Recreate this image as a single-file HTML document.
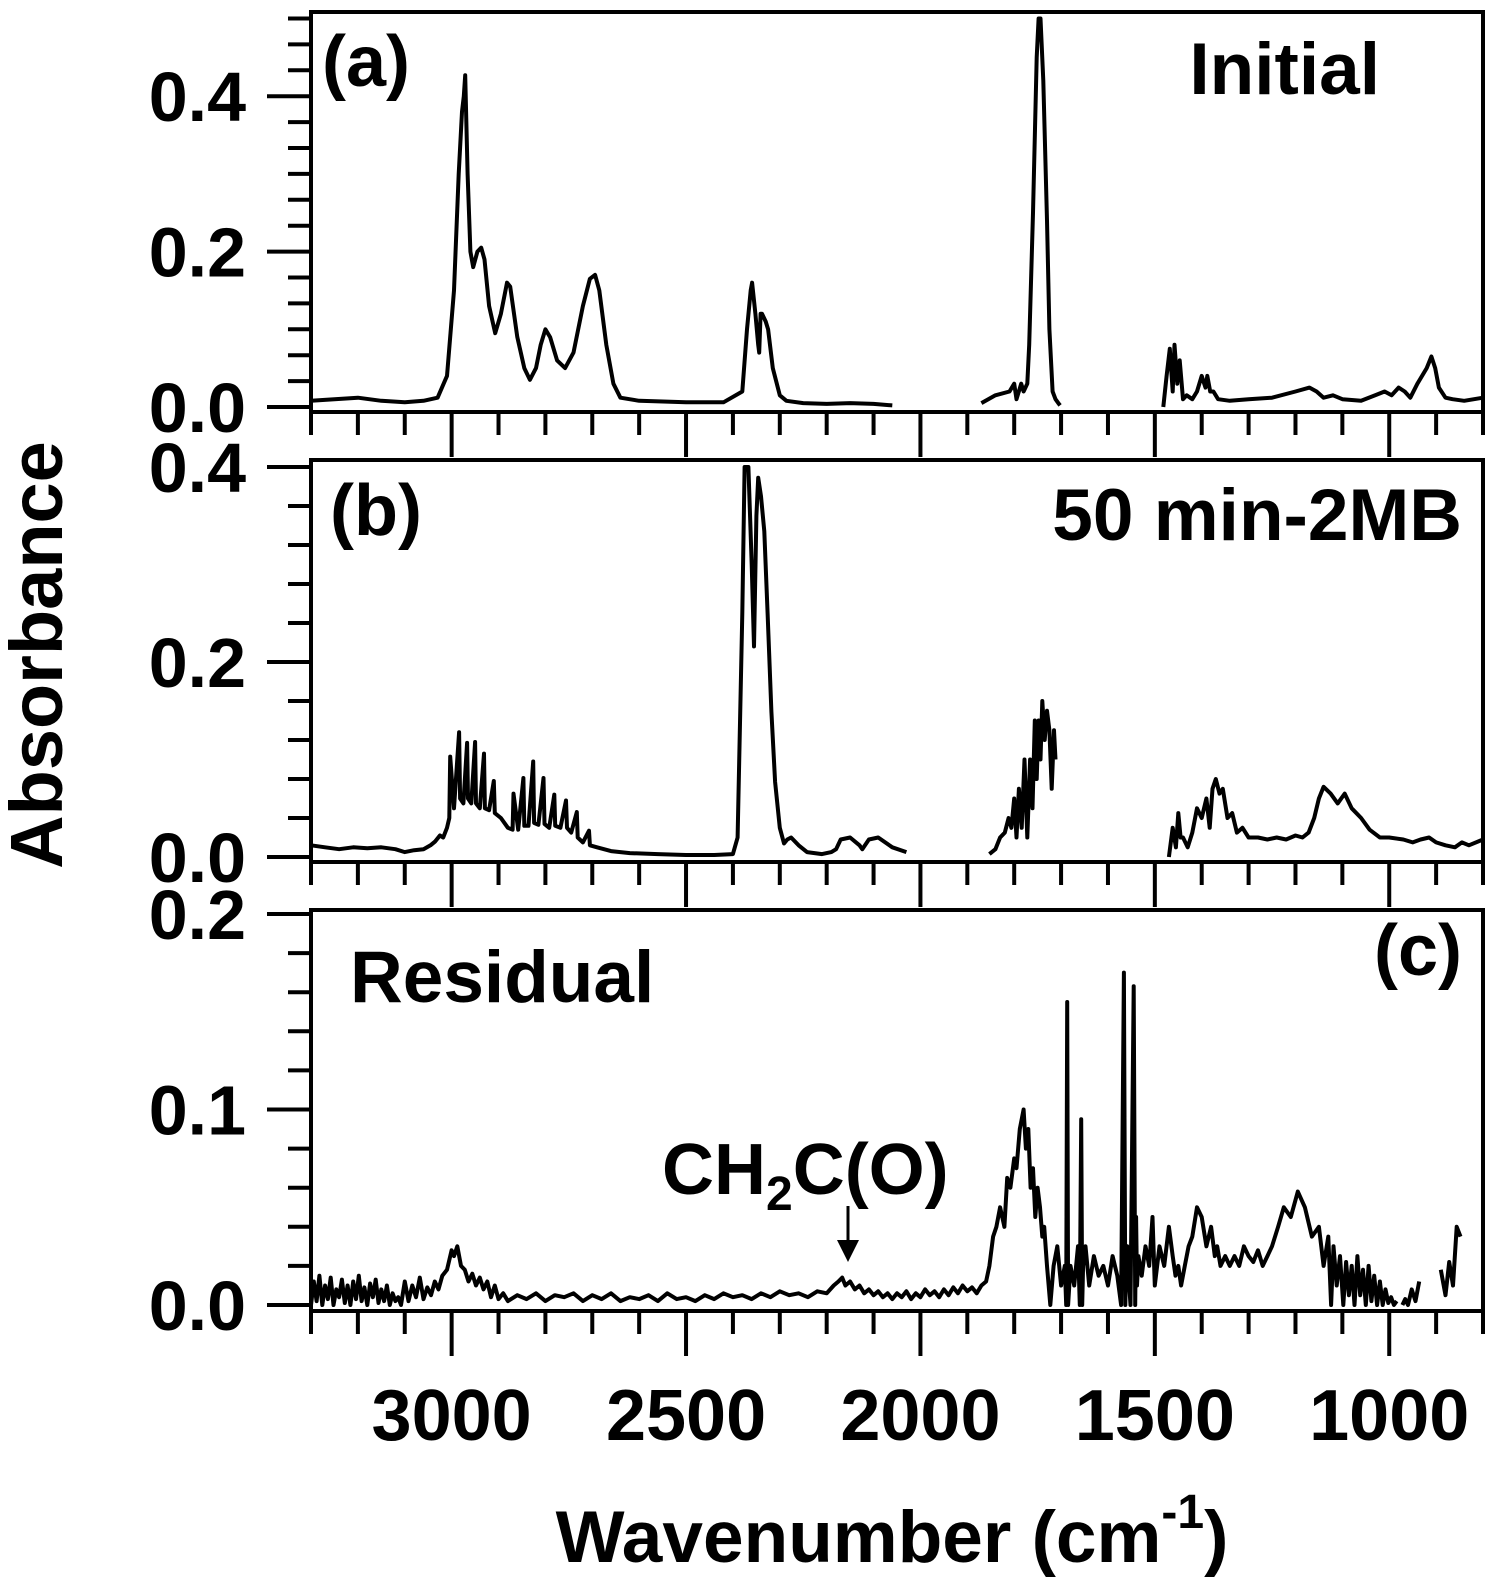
<!DOCTYPE html>
<html><head><meta charset="utf-8"><style>
html,body{margin:0;padding:0;background:#fff;}
svg{display:block;}
text{font-family:"Liberation Sans",Arial,sans-serif;font-weight:bold;fill:#000;}
</style></head><body>
<svg id="chart" width="1500" height="1588" viewBox="0 0 1500 1588">
<g id="frames"></g>
<g id="ticks"></g>
<g id="series"></g>
<g id="labels"></g>
<text x="322" y="86" font-size="72">(a)</text>
<text x="1380" y="94" font-size="73" text-anchor="end">Initial</text>
<text x="330" y="535" font-size="72">(b)</text>
<text x="1462" y="540" font-size="73" text-anchor="end">50 min-2MB</text>
<text x="350" y="1002" font-size="73">Residual</text>
<text x="1462" y="975" font-size="72" text-anchor="end">(c)</text>
<text x="662" y="1194" font-size="72">CH<tspan font-size="48" dy="16">2</tspan><tspan dy="-16">C(O)</tspan></text>
<g>
<line x1="848" y1="1206" x2="848" y2="1246" stroke="#000" stroke-width="3"/>
<polygon points="837,1240 859,1240 848,1262" fill="#000"/>
</g>
<text x="892" y="1562" font-size="73" text-anchor="middle">Wavenumber (cm<tspan font-size="48" dy="-34">-1</tspan><tspan dy="34">)</tspan></text>
<text transform="translate(62,655) rotate(-90)" font-size="74" text-anchor="middle">Absorbance</text>
</svg>
<script>
// x-axis ticks
const xMajorTicks=[3000,2500,2000,1500,1000];
const xTickLabels=["3000","2500","2000","1500","1000"];
// y ticks per panel
const aYTicks=[0.0,0.2,0.4]; const aYLabels=["0.0","0.2","0.4"];
const bYTicks=[0.0,0.2,0.4]; const bYLabels=["0.0","0.2","0.4"];
const cYTicks=[0.0,0.1,0.2]; const cYLabels=["0.0","0.1","0.2"];

// Panel (a) Initial
const aWave=[3300,3250,3200,3150,3100,3060,3030,3010,2995,2985,2978,2974,2971,2966,2960,2954,2945,2937,2930,2920,2907,2895,2882,2875,2860,2845,2833,2820,2810,2800,2790,2775,2758,2740,2720,2705,2694,2685,2670,2655,2640,2600,2500,2420,2380,2370,2362,2359,2352,2346,2344,2341,2338,2330,2325,2315,2300,2286,2250,2200,2150,2100,2060,null,1870,1840,1810,1800,1795,1785,1780,1772,1768,1760,1752,1748,1744,1738,1730,1725,1718,1712,1706,1702,null,1482,1475,1468,1462,1458,1452,1447,1440,1432,1420,1410,1400,1392,1388,1382,1375,1365,1340,1300,1250,1200,1170,1155,1140,1120,1100,1060,1030,1010,995,980,967,955,940,920,910,902,894,880,865,840,800];
const aVal=[0.008,0.010,0.012,0.008,0.006,0.008,0.012,0.04,0.15,0.30,0.38,0.40,0.427,0.30,0.20,0.18,0.20,0.205,0.19,0.13,0.095,0.12,0.16,0.155,0.09,0.05,0.035,0.05,0.08,0.10,0.09,0.06,0.05,0.07,0.13,0.165,0.17,0.15,0.08,0.03,0.012,0.008,0.006,0.006,0.02,0.10,0.15,0.16,0.12,0.08,0.07,0.12,0.12,0.11,0.10,0.05,0.015,0.008,0.005,0.004,0.005,0.004,0.002,null,0.005,0.015,0.02,0.03,0.01,0.03,0.02,0.03,0.08,0.25,0.45,0.50,0.50,0.42,0.24,0.10,0.02,0.01,0.005,0.002,null,0.0,0.04,0.075,0.02,0.08,0.03,0.06,0.01,0.015,0.01,0.02,0.04,0.025,0.04,0.02,0.02,0.01,0.008,0.01,0.012,0.02,0.025,0.02,0.012,0.015,0.01,0.008,0.015,0.02,0.015,0.025,0.02,0.012,0.03,0.05,0.065,0.05,0.025,0.012,0.01,0.008,0.012];

// Panel (b) 50 min-2MB
const bWave=[3300,3270,3240,3210,3180,3150,3120,3100,3080,3060,3045,3035,3025,3018,3010,3005,3003,2995,2984,2982,2975,2967,2965,2958,2950,2948,2940,2931,2929,2920,2910,2908,2895,2880,2870,2868,2858,2847,2845,2836,2826,2824,2815,2804,2802,2792,2781,2779,2768,2756,2754,2745,2733,2731,2720,2707,2705,2690,2660,2620,2560,2500,2440,2400,2390,2380,2375,2367,2360,2355,2350,2346,2340,2333,2326,2318,2310,2300,2291,2284,2276,2260,2242,2210,2190,2180,2170,2150,2130,2124,2110,2090,2060,2030,null,1880,1860,1853,1840,1830,1820,1812,1806,1800,1795,1790,1784,1778,1772,1766,1761,1756,1752,1748,1744,1740,1735,1730,1725,1720,1715,1712,null,1486,1478,1470,1462,1455,1450,1445,1440,1430,1420,1410,1400,1390,1383,1377,1370,1362,1355,1345,1335,1325,1313,1300,1280,1260,1240,1220,1200,1185,1172,1160,1150,1140,1125,1110,1095,1080,1060,1042,1020,1000,970,950,933,915,900,880,860,845,830,800];
const bVal=[0.012,0.010,0.008,0.010,0.009,0.010,0.008,0.005,0.007,0.008,0.012,0.016,0.022,0.02,0.03,0.04,0.103,0.05,0.128,0.06,0.055,0.117,0.06,0.055,0.118,0.055,0.05,0.106,0.05,0.048,0.078,0.045,0.04,0.03,0.028,0.065,0.028,0.081,0.032,0.032,0.098,0.035,0.033,0.081,0.034,0.03,0.064,0.032,0.03,0.058,0.03,0.025,0.046,0.02,0.015,0.027,0.012,0.01,0.006,0.004,0.003,0.002,0.002,0.003,0.02,0.25,0.40,0.40,0.30,0.216,0.35,0.389,0.37,0.334,0.25,0.149,0.077,0.03,0.014,0.018,0.02,0.012,0.005,0.003,0.005,0.008,0.018,0.02,0.012,0.008,0.018,0.02,0.01,0.005,0.003,0.002,null,0.003,0.008,0.02,0.025,0.04,0.03,0.06,0.02,0.07,0.03,0.10,0.02,0.10,0.05,0.14,0.08,0.14,0.10,0.16,0.12,0.15,0.13,0.07,0.13,0.10,0.04,0.005,null,0.0,0.03,0.01,0.045,0.02,0.02,0.01,0.025,0.05,0.04,0.06,0.03,0.07,0.08,0.065,0.07,0.04,0.045,0.025,0.03,0.02,0.02,0.018,0.02,0.018,0.022,0.02,0.025,0.04,0.06,0.072,0.065,0.055,0.065,0.05,0.04,0.028,0.02,0.02,0.018,0.015,0.018,0.02,0.015,0.012,0.01,0.015,0.012,0.018,0.012,0.01];

// Panel (c) Residual
const cWave=[3300,3294,3288,3282,3276,3270,3264,3258,3252,3246,3240,3234,3228,3222,3216,3210,3204,3198,3192,3186,3180,3174,3168,3162,3156,3150,3144,3138,3132,3126,3120,3114,3108,3100,3092,3084,3076,3068,3060,3052,3044,3036,3028,3020,3010,3000,2995,2988,2980,2972,2964,2956,2948,2940,2932,2924,2916,2908,2900,2890,2880,2860,2840,2820,2800,2780,2760,2740,2720,2700,2680,2660,2640,2620,2600,2580,2560,2540,2520,2500,2480,2460,2440,2420,2400,2380,2360,2340,2320,2300,2280,2260,2240,2220,2200,2185,2175,2167,2160,2150,2140,2130,2120,2110,2100,2090,2080,2070,2060,2050,2040,2030,2020,2010,2000,1990,1980,1970,1960,1950,1940,1930,1920,1910,1900,1890,1880,1870,1860,1853,1845,1838,1830,1821,1815,1808,1800,1795,1788,1780,1775,1770,1765,1760,1755,1750,1745,1740,1736,1730,1723,1716,1708,1700,1692,1689,1687,1685,1680,1672,1664,1660,1657,1655,1653,1648,1640,1630,1620,1610,1600,1590,1580,1572,1566,1563,1561,1559,1556,1552,1545,1542,1540,1538,1535,1528,1520,1512,1505,1500,1490,1480,1470,1462,1456,1450,1444,1436,1428,1420,1410,1400,1390,1380,1372,1367,1360,1350,1340,1330,1320,1310,1300,1290,1280,1270,1260,1250,1237,1225,1210,1195,1180,1165,1150,1140,1130,1124,1119,1112,1105,1098,1092,1086,1080,1074,1068,1062,1056,1050,1044,1038,1032,1026,1020,1014,1008,1002,996,990,984,978,972,966,960,952,944,936,null,890,880,872,864,856,848,840,832,824,816,808,802,800];
const cVal=[0.0,0.012,0.002,0.015,0.0,0.010,0.003,0.014,0.0,0.008,0.004,0.013,0.001,0.010,0.0,0.012,0.003,0.015,0.002,0.009,0.0,0.011,0.004,0.013,0.001,0.008,0.002,0.010,0.0,0.006,0.002,0.004,0.0,0.012,0.002,0.010,0.004,0.014,0.003,0.009,0.005,0.012,0.008,0.015,0.018,0.028,0.025,0.030,0.02,0.018,0.012,0.016,0.010,0.014,0.008,0.012,0.004,0.010,0.003,0.006,0.002,0.005,0.003,0.006,0.002,0.005,0.004,0.006,0.002,0.005,0.003,0.006,0.002,0.004,0.003,0.005,0.002,0.006,0.003,0.004,0.002,0.005,0.003,0.006,0.004,0.005,0.003,0.006,0.004,0.007,0.005,0.006,0.004,0.007,0.006,0.010,0.012,0.014,0.010,0.012,0.008,0.010,0.006,0.008,0.005,0.007,0.004,0.006,0.003,0.006,0.004,0.007,0.003,0.006,0.004,0.008,0.005,0.007,0.004,0.008,0.005,0.009,0.006,0.010,0.007,0.009,0.006,0.010,0.012,0.02,0.035,0.04,0.05,0.04,0.065,0.06,0.075,0.07,0.09,0.10,0.08,0.09,0.06,0.07,0.045,0.06,0.05,0.035,0.04,0.02,0.0,0.02,0.03,0.01,0.02,0.0,0.155,0.0,0.02,0.01,0.03,0.0,0.095,0.0,0.02,0.03,0.01,0.025,0.015,0.02,0.01,0.025,0.015,0.0,0.17,0.0,0.02,0.03,0.015,0.0,0.163,0.0,0.045,0.01,0.025,0.015,0.03,0.02,0.045,0.01,0.03,0.02,0.04,0.025,0.015,0.02,0.01,0.02,0.03,0.035,0.05,0.045,0.03,0.04,0.025,0.03,0.02,0.025,0.02,0.025,0.02,0.03,0.025,0.022,0.028,0.02,0.025,0.03,0.04,0.05,0.045,0.058,0.05,0.035,0.04,0.02,0.035,0.0,0.03,0.01,0.025,0.0,0.022,0.005,0.02,0.0,0.025,0.005,0.018,0.0,0.02,0.002,0.015,0.0,0.012,0.0,0.008,0.001,0.004,0.0,0.002,null,0.0,0.003,0.0,0.008,0.002,0.012,0.004,0.018,0.005,0.022,0.01,0.04,0.035];

const NS='http://www.w3.org/2000/svg';
const X0=311,X1=1483,W0=3300,W1=800;
function xs(w){return X0+(W0-w)*(X1-X0)/(W0-W1);}
const panels=[
 {key:'a',top:12,axis:412,zeroY:407,perUnit:777,wave:aWave,val:aVal,yt:aYTicks,yl:aYLabels,minorStep:0.2/6,maxV:0.51},
 {key:'b',top:460,axis:862,zeroY:857,perUnit:975,wave:bWave,val:bVal,yt:bYTicks,yl:bYLabels,minorStep:0.04,maxV:0.4},
 {key:'c',top:910,axis:1311,zeroY:1305,perUnit:1955,wave:cWave,val:cVal,yt:cYTicks,yl:cYLabels,minorStep:0.02,maxV:0.2}
];
function mk(tag,attrs,parent){const e=document.createElementNS(NS,tag);for(const k in attrs)e.setAttribute(k,attrs[k]);parent.appendChild(e);return e;}
const gF=document.getElementById('frames'),gT=document.getElementById('ticks'),gS=document.getElementById('series'),gL=document.getElementById('labels');
panels.forEach(p=>{
 const ys=v=>p.zeroY-v*p.perUnit;
 const fr=mk('path',{d:`M${X0},${p.axis}V${p.top}H${X1}V${p.axis}`,fill:'none',stroke:'#000','stroke-width':4},gF);
 
 
 const ax=mk('line',{x1:X0-2,x2:X1+2,y1:p.axis,y2:p.axis,stroke:'#000','stroke-width':4},gF);
 
 
 for(let w=3300;w>=800;w-=100){
  const major=(w%500===0);
  const t=mk('line',{x1:xs(w),x2:xs(w),y1:p.axis,y2:p.axis+(major?45:23),stroke:'#000','stroke-width':4},gT);
  
  
 }
 for(let v=0;v<=p.maxV+1e-6;v+=p.minorStep){
  const isMaj=p.yt.some(m=>Math.abs(m-v)<1e-6);
  const t=mk('line',{x1:X0,x2:X0-(isMaj?44:23),y1:ys(v),y2:ys(v),stroke:'#000','stroke-width':4},gT);
  
  
 }
 p.yt.forEach((v,i)=>{
  const tx=mk('text',{x:246,y:ys(v)+25,'font-size':70,'text-anchor':'end'},gL);
  tx.textContent=p.yl[i];
  
  
 });
 let d='',pen=false;
 for(let i=0;i<p.wave.length;i++){
  if(p.wave[i]===null||p.val[i]===null){pen=false;continue;}
  const y=Math.max(p.top+2,ys(p.val[i]));
  d+=(pen?'L':'M')+xs(p.wave[i]).toFixed(1)+','+y.toFixed(1);
  pen=true;
 }
 const path=mk('path',{d:d,fill:'none',stroke:'#000','stroke-width':4,'stroke-linejoin':'round'},gS);
 
 
});
xMajorTicks.forEach((w,i)=>{
 const t=mk('text',{x:xs(w),y:1440,'font-size':72,'text-anchor':'middle'},gL);
 t.textContent=xTickLabels[i];
 
 
});
</script>
</body></html>
